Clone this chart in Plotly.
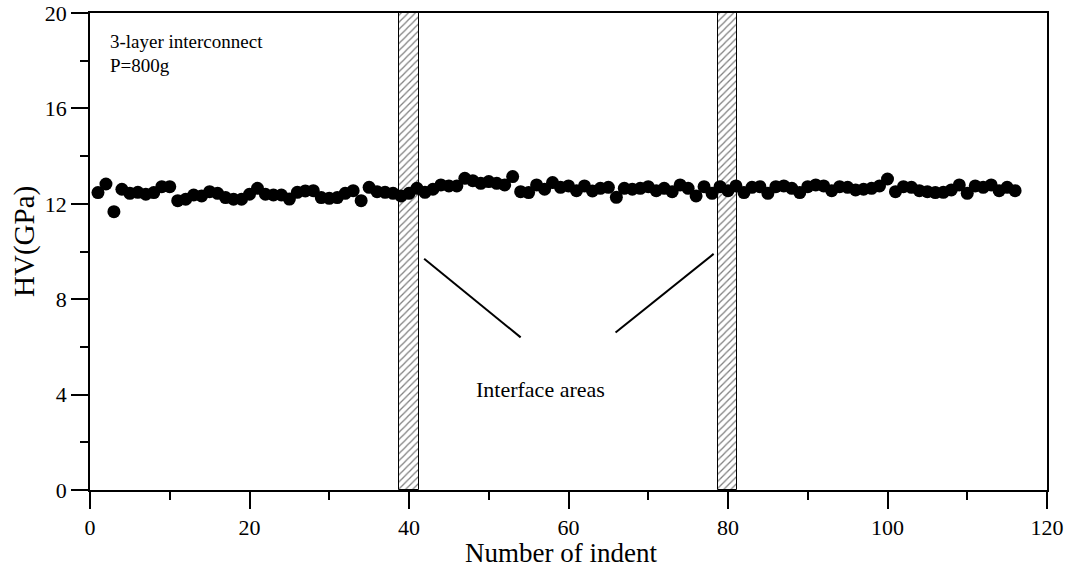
import plotly.graph_objects as go

indent = list(range(1, 117))
hv = [
    12.47, 12.83, 11.67, 12.61, 12.44, 12.48, 12.40, 12.47, 12.72, 12.72,
    12.13, 12.19, 12.37, 12.33, 12.51, 12.44, 12.26, 12.19, 12.19, 12.40,
    12.65, 12.40, 12.37, 12.37, 12.20, 12.48, 12.54, 12.55, 12.26, 12.23,
    12.26, 12.44, 12.55, 12.13, 12.69, 12.51, 12.48, 12.44, 12.33, 12.44,
    12.65, 12.48, 12.61, 12.79, 12.75, 12.75, 13.07, 12.97, 12.86, 12.93,
    12.86, 12.79, 13.14, 12.51, 12.47, 12.79, 12.61, 12.89, 12.69, 12.75,
    12.55, 12.75, 12.54, 12.65, 12.69, 12.27, 12.65, 12.61, 12.65, 12.72,
    12.55, 12.65, 12.51, 12.79, 12.65, 12.33, 12.72, 12.44, 12.72, 12.55,
    12.75, 12.47, 12.69, 12.72, 12.44, 12.72, 12.75, 12.65, 12.47, 12.72,
    12.79, 12.75, 12.55, 12.72, 12.69, 12.58, 12.61, 12.65, 12.75, 13.04,
    12.51, 12.72, 12.69, 12.55, 12.51, 12.47, 12.48, 12.58, 12.79, 12.44,
    12.75, 12.69, 12.79, 12.55, 12.69, 12.55,
]

interface_start = [38.7, 78.7]
interface_end = [41.2, 81.1]
y_max = 20

x_ticks = [0, 20, 40, 60, 80, 100, 120]
y_ticks = [0, 4, 8, 12, 16, 20]

FONT = "Liberation Serif, Times New Roman, serif"

fig = go.Figure()
fig.add_trace(go.Bar(
    x=[(a + b) / 2 for a, b in zip(interface_start, interface_end)],
    y=[y_max] * len(interface_start),
    width=[b - a for a, b in zip(interface_start, interface_end)],
    marker=dict(color="white", line=dict(color="black", width=1),
                pattern=dict(shape="/", fgcolor="black", bgcolor="white", size=5, solidity=0.25)),
    showlegend=False, hoverinfo="skip",
))
fig.add_trace(go.Scatter(
    x=indent, y=hv, mode="markers",
    marker=dict(color="black", size=13),
    showlegend=False,
))

# pointer lines
fig.add_shape(type="line", x0=41.9, y0=9.7, x1=54.0, y1=6.4, line=dict(color="black", width=2))
fig.add_shape(type="line", x0=65.9, y0=6.6, x1=78.2, y1=9.9, line=dict(color="black", width=2))

fig.add_annotation(x=56.5, y=4.2, text="Interface areas", showarrow=False,
                   font=dict(family=FONT, size=22, color="black"))
fig.add_annotation(x=2.2, y=18.8, text="3-layer interconnect", showarrow=False,
                   xanchor="left", font=dict(family=FONT, size=19, color="black"))
fig.add_annotation(x=2.2, y=17.8, text="P=800g", showarrow=False,
                   xanchor="left", font=dict(family=FONT, size=19, color="black"))

# axis titles
fig.add_annotation(xref="paper", yref="paper", x=0.492, y=-0.132, text="Number of indent",
                   xanchor="center", yanchor="middle",
                   showarrow=False, font=dict(family=FONT, size=27, color="black"))
fig.add_annotation(xref="paper", yref="paper", x=-0.069, y=0.522, text="HV(GPa)", textangle=-90,
                   xanchor="center", yanchor="middle",
                   showarrow=False, font=dict(family=FONT, size=29, color="black"))

axis_common = dict(
    showline=True, linecolor="black", linewidth=1.5, mirror=True,
    ticks="outside", ticklen=17, tickwidth=1.5, tickcolor="black",
    showgrid=False, zeroline=False, automargin=False,
    tickfont=dict(family=FONT, size=22, color="black"),
)
fig.update_xaxes(range=[0, 120], tickvals=x_ticks,
                 minor=dict(ticks="outside", ticklen=8, dtick=10, tick0=0, tickwidth=1.5, tickcolor="black"),
                 **axis_common)
fig.update_yaxes(range=[0, 20], tickvals=y_ticks,
                 minor=dict(ticks="outside", ticklen=8, dtick=2, tick0=0, tickwidth=1.5, tickcolor="black"),
                 **axis_common)

fig.update_layout(
    width=1069, height=569,
    margin=dict(l=90, r=22, t=13, b=79),
    plot_bgcolor="white", paper_bgcolor="white",
    bargap=0,
)

fig.write_html("out.html")
